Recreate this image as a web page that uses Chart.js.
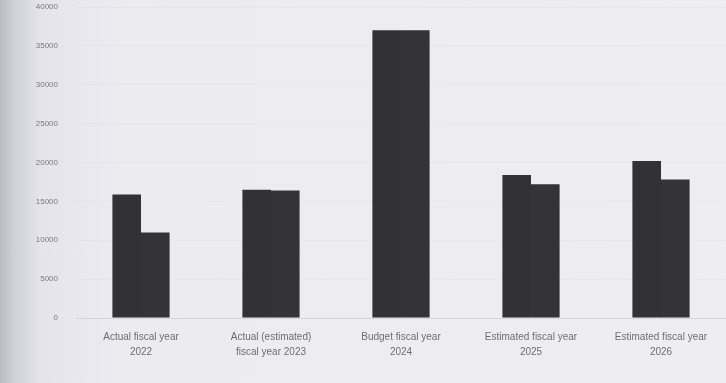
<!DOCTYPE html>
<html lang="en">
<head>
  <meta charset="UTF-8" />
  <title>Fiscal year chart</title>
  <script src="https://cdn.jsdelivr.net/npm/chart.js"></script>
  <style>
    * { margin: 0; padding: 0; box-sizing: border-box; }
    body {
      width: 726px;
      height: 383px;
      overflow: hidden;
      background: linear-gradient(to right, #b9bcc1 0px, #cfd1d6 14px, #e4e4ea 40px, #ebebf0 120px, #ededf2 100%);
    }
    canvas { display: block; }
  </style>
</head>
<body>
  <canvas id="chart" width="726" height="383"></canvas>

  <script>
    const categories = [
      ['Actual fiscal year', '2022'],
      ['Actual (estimated)', 'fiscal year 2023'],
      ['Budget fiscal year', '2024'],
      ['Estimated fiscal year', '2025'],
      ['Estimated fiscal year', '2026']
    ];
    const seriesA = [15900, 16500, 37000, 18400, 20200];
    const seriesB = [11000, 16400, 37000, 17200, 17800];
    const yTicks = [0, 5000, 10000, 15000, 20000, 25000, 30000, 35000, 40000];

    const ctx = document.getElementById('chart').getContext('2d');
    const chart = new Chart(ctx, {
      type: 'bar',
      data: {
        labels: categories,
        datasets: [
          { label: 'A', data: seriesA, backgroundColor: '#323234', borderWidth: 0 },
          { label: 'B', data: seriesB, backgroundColor: '#343436', borderWidth: 0 }
        ]
      },
      options: {
        responsive: false,
        animation: false,
        devicePixelRatio: 1,
        layout: { padding: { top: 7, left: 4, right: 0, bottom: 20 } },
        datasets: { bar: { categoryPercentage: 0.44, barPercentage: 1.0 } },
        plugins: { legend: { display: false }, tooltip: { enabled: false } },
        scales: {
          x: {
            grid: { display: false },
            border: { display: true, color: '#d4d4da' },
            ticks: {
              color: '#6e6e72',
              font: { family: 'Liberation Sans', size: 10, lineHeight: 1.45 },
              maxRotation: 0,
              autoSkip: false,
              padding: 4
            }
          },
          y: {
            min: 0,
            max: 40000,
            afterBuildTicks: (axis) => { axis.ticks = yTicks.map(v => ({ value: v })); },
            afterFit: (axis) => {
              axis.width = 72;
              axis.paddingTop = 0;
              axis.paddingBottom = 0;
            },
            grid: { color: 'rgba(200,200,208,0.12)', drawTicks: false },
            border: { display: false },
            ticks: {
              color: '#7a7a7e',
              font: { family: 'Liberation Sans', size: 8 },
              autoSkip: false,
              padding: 18,
              callback: (v) => String(v)
            }
          }
        }
      }
    });
  </script>
</body>
</html>
